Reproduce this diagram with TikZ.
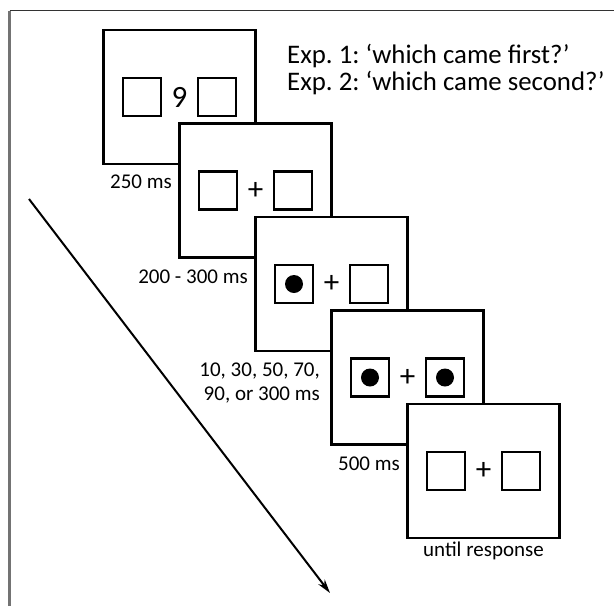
\documentclass[tikz,border=0pt]{standalone}
\usepackage{fontspec}
\setmainfont{Carlito}
\frenchspacing
\usetikzlibrary{arrows.meta}

\begin{document}
\begin{tikzpicture}[x=1pt, y=-1pt,
    screen/.style={draw, line width=2.4pt, fill=white, minimum width=152pt, minimum height=134pt, inner sep=0pt},
    sq/.style={draw, line width=2.2pt, minimum size=38pt, inner sep=0pt},
    dot/.style={circle, fill, minimum size=18pt, inner sep=0pt},
    sym/.style={font=\fontsize{31}{31}\selectfont, inner sep=0pt},
    lab/.style={font=\fontsize{21}{24}\selectfont, inner sep=0pt},
    head/.style={font=\fontsize{26.8}{27}\selectfont, inner sep=0pt, anchor=base west}]

    \useasboundingbox (0,0) rectangle (614,606);

    \coordinate (fa) at (9.5,606);
    \coordinate (fb) at (9.5,10.5);
    \coordinate (fc) at (614,10.5);
    \draw [line width=2.4pt, black!55] (fa) -- (fb);
    \draw [line width=1.3pt, black!80] (fb) -- (fc);

    \node [head] (q1) at (287,63) {Exp. 1: ‘which came first?’};
    \node [head] (q2) at (287,90) {Exp. 2: ‘which came second?’};

    \coordinate (t0) at (29,199);
    \coordinate (t1) at (330,593);
    \draw [line width=2pt, -{Stealth[length=14pt, width=8pt]}] (t0) -- (t1);

    \node [screen] (a) at (179.5,97) {};
    \node [sq] (a1) at (142,97) {};
    \node [sq] (a2) at (217,97) {};
    \node [sym] (a3) at (179.5,97) {9};

    \node [screen] (b) at (255.5,190.5) {};
    \node [sq] (b1) at (218,190.5) {};
    \node [sq] (b2) at (293,190.5) {};
    \node [sym] (b3) at (255.5,190.5) {+};

    \node [screen] (c) at (331.5,284) {};
    \node [sq] (c1) at (294,284) {};
    \node [sq] (c2) at (369,284) {};
    \node [sym] (c3) at (331.5,284) {+};
    \node [dot] (c4) at (c1) {};

    \node [screen] (d) at (407.5,377.5) {};
    \node [sq] (d1) at (370,377.5) {};
    \node [sq] (d2) at (445,377.5) {};
    \node [sym] (d3) at (407.5,377.5) {+};
    \node [dot] (d4) at (d1) {};
    \node [dot] (d5) at (d2) {};

    \node [screen] (e) at (483.5,471) {};
    \node [sq] (e1) at (446,471) {};
    \node [sq] (e2) at (521,471) {};
    \node [sym] (e3) at (483.5,471) {+};

    \node [lab, anchor=base east] (la) at (172,188) {250 ms};
    \node [lab, anchor=base east] (lb) at (248,283) {200 - 300 ms};
    \node [lab, anchor=base east] (lc) at (320,376) {10, 30, 50, 70,};
    \node [lab, anchor=base east] (ld) at (320,400) {90, or 300 ms};
    \node [lab, anchor=base east] (le) at (400,470) {500 ms};
    \node [lab, anchor=base] (lf) at (483.5,556) {until response};

\end{tikzpicture}
\end{document}
